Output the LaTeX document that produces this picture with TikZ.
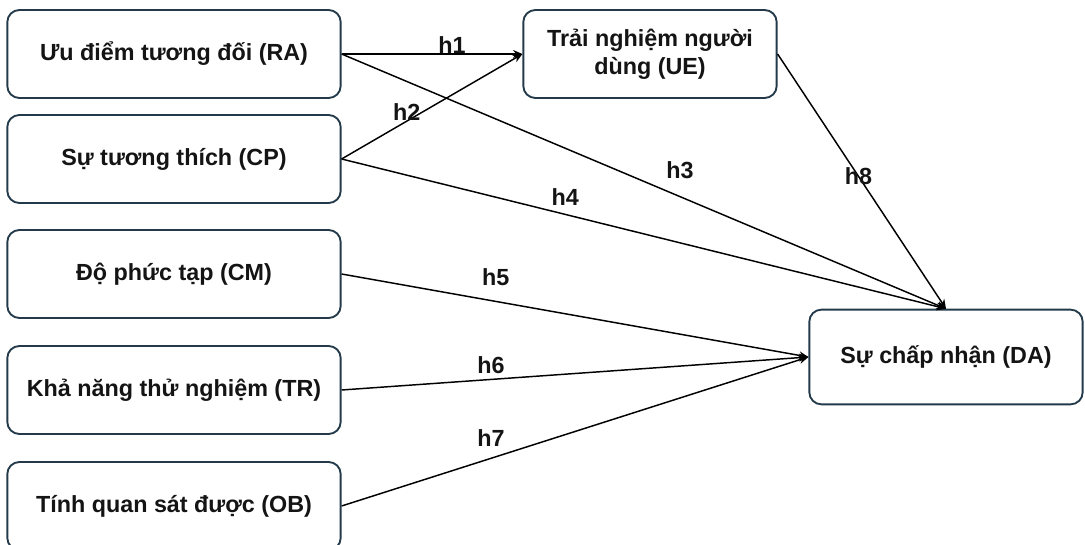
\documentclass[tikz,border=0pt]{standalone}
\usepackage{fontspec}
\setmainfont{Liberation Sans}
\usetikzlibrary{arrows.meta}
\definecolor{boxline}{HTML}{233A4B}
\definecolor{inktext}{HTML}{141414}
\begin{document}
\begin{tikzpicture}[x=0.75pt,y=-0.75pt,
    -{Stealth[length=7pt,width=6pt]},line width=1.1pt,
    var node/.style={draw=boxline,line width=1.4pt,rounded corners=9pt,text=inktext,
        font=\bfseries\fontsize{17.5}{21}\selectfont,minimum width=250pt,minimum height=66pt,align=center}]
    \useasboundingbox (0,0) rectangle (1085,545);
    \node[var node] (1) at (174,54) {Ưu điểm tương đối (RA)};
    \node[var node] (2) at (174,159) {Sự tương thích (CP)};
    \node[var node] (3) at (174,274) {Độ phức tạp (CM)};
    \node[var node] (4) at (174,390) {Khả năng thử nghiệm (TR)};
    \node[var node] (5) at (174,506) {Tính quan sát được (OB)};
    \node[var node, minimum width=190pt] (6) at (650,54) {Trải nghiệm người\\dùng (UE)};
    \node[var node, minimum width=205pt, minimum height=71pt] (7) at (946,357) {Sự chấp nhận (DA)};
    \path[every node/.style={font=\bfseries\fontsize{17.5}{21}\selectfont,text=inktext,inner sep=0pt}]
    (1.east) edge node [pos=0.61, above] {h1} (6.west)
    (2.east) edge node [pos=0.36, above] {h2} (6.west)
    (1.east) edge node [pos=0.56, above=13pt] {h3} (7.north)
    (2.east) edge node [pos=0.37, above=6pt] {h4} (7.north)
    (3.east) edge node [pos=0.33, above=11pt] {h5} (7.west)
    (4.east) edge node [pos=0.32, above=4pt] {h6} (7.west)
    (5.east) edge node [pos=0.32, above=8pt] {h7} (7.west)
    (6.east) edge node [pos=0.48] {h8} (7.north);
\end{tikzpicture}
\end{document}
